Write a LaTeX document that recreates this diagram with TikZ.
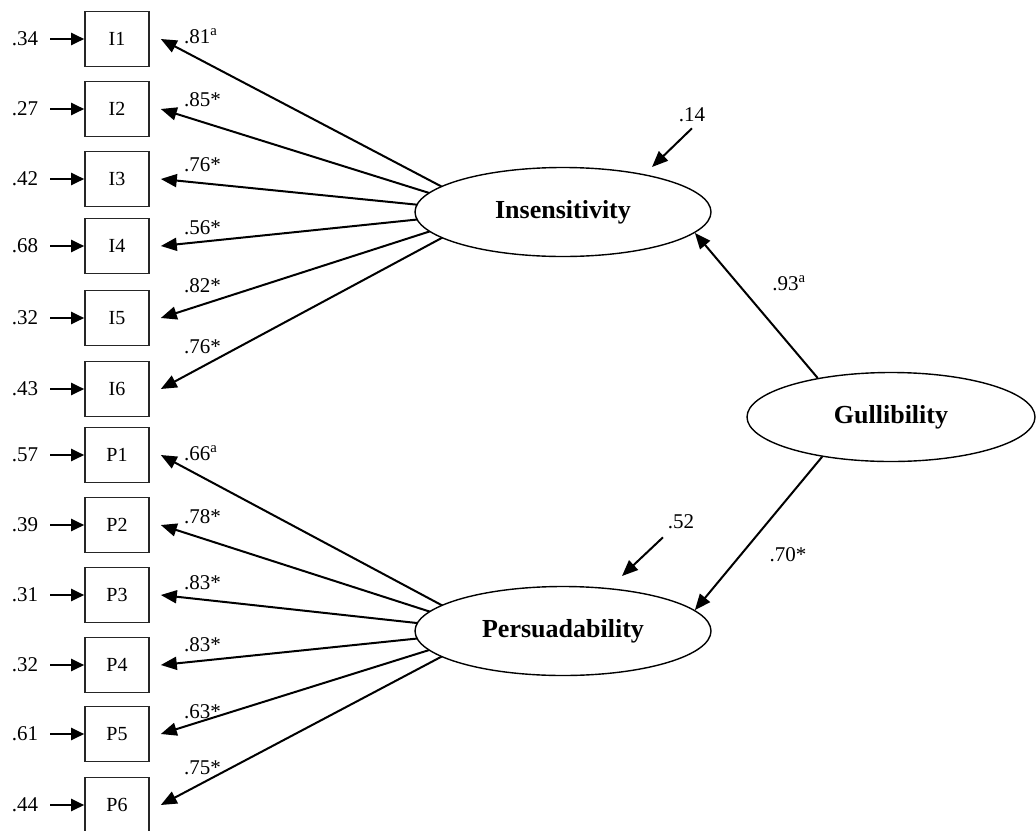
\documentclass[tikz,border=0pt]{standalone}
\usepackage{fontspec}
\setmainfont{Liberation Serif}
\usetikzlibrary{shapes.geometric,arrows.meta,backgrounds}
\begin{document}
\begin{tikzpicture}[x=1pt,y=-1pt,
  obs/.style={draw=black!85, line width=1.6pt, minimum width=64pt, minimum height=55pt, inner sep=0pt, font=\fontsize{20}{24}\selectfont},
  lat/.style={ellipse, draw, line width=1.4pt, fill=white, minimum width=296pt, minimum height=89pt, inner sep=0pt, font=\fontsize{26}{30}\selectfont\bfseries},
  num/.style={inner sep=0pt, font=\fontsize{21}{25}\selectfont},
  errlab/.style={inner xsep=12pt, inner ysep=0pt, font=\fontsize{21}{25}\selectfont},
  arr/.style={line width=2pt, -{Triangle[length=16pt,width=13pt]}},
  earr/.style={line width=2.2pt, -{Triangle[length=13pt,width=12pt]}},
]
\useasboundingbox (0,0) rectangle (1036,830);

% latent variables
\node[lat] (I) at (563,212) {Insensitivity};
\node[lat] (P) at (563,631) {Persuadability};
\node[lat, minimum width=288pt] (G) at (891,417) {Gullibility};

% Insensitivity indicators
\foreach \n/\y/\e/\l/\ly in {
  I1/39/.34/.81\textsuperscript{a}/36,
  I2/109/.27/.85*/100,
  I3/179/.42/.76*/165,
  I4/246/.68/.56*/228,
  I5/318/.32/.82*/286,
  I6/389/.43/.76*/347}{
  \node[obs] (\n) at (117,\y) {\n};
  \node[errlab] (e\n) at (25,\y) {\e};
  \draw[earr] (e\n) -- (\n.west);
  \node[num, anchor=west] (l\n) at (184,\ly) {\l};
  \begin{scope}[on background layer]
    \draw[arr] ([xshift=-73pt]I.center) -- ([xshift=11pt]\n.east);
  \end{scope}
}

% Persuadability indicators
\foreach \n/\y/\e/\l/\ly in {
  P1/455/.57/.66\textsuperscript{a}/453,
  P2/525/.39/.78*/517,
  P3/595/.31/.83*/583,
  P4/665/.32/.83*/645,
  P5/734/.61/.63*/712,
  P6/805/.44/.75*/768}{
  \node[obs] (\n) at (117,\y) {\n};
  \node[errlab] (e\n) at (25,\y) {\e};
  \draw[earr] (e\n) -- (\n.west);
  \node[num, anchor=west] (l\n) at (184,\ly) {\l};
  \begin{scope}[on background layer]
    \draw[arr] ([xshift=-73pt]P.center) -- ([xshift=11pt]\n.east);
  \end{scope}
}

% structural paths
\draw[arr] (G.152) -- (I.-9);
\draw[arr] (G.210) -- (P.9);
\node[num] (gI) at (789,283) {.93\textsuperscript{a}};
\node[num] (gP) at (788,555) {.70*};

% disturbances
\node[num] (dI) at (692,115) {.14};
\coordinate (dIe) at (652,167);
\draw[arr] ([yshift=-6pt]dI.south) -- (dIe);
\node[num] (dP) at (681,522) {.52};
\coordinate (dPe) at (622,576);
\draw[arr] ([xshift=-18pt,yshift=-8pt]dP.south) -- (dPe);
\end{tikzpicture}
\end{document}
